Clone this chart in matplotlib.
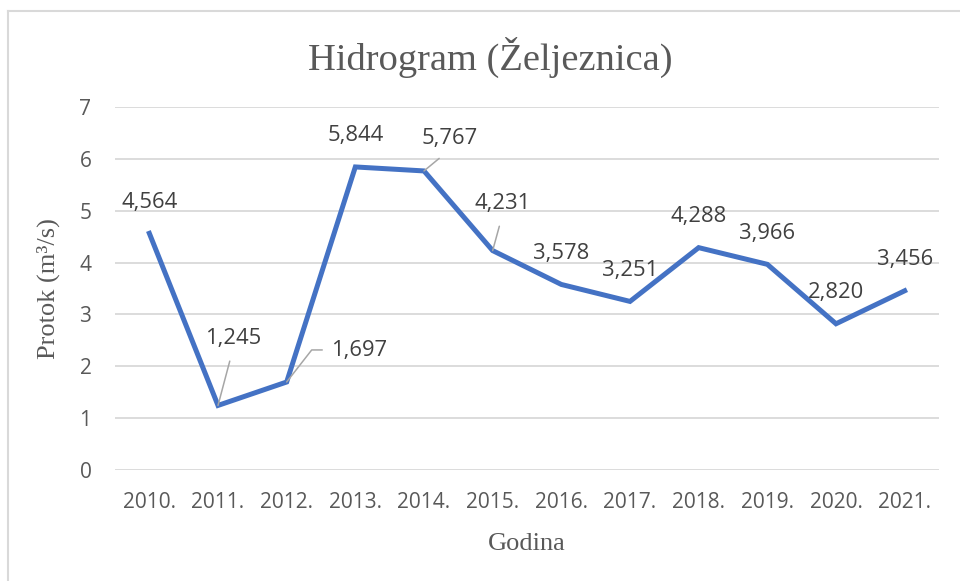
import matplotlib
matplotlib.use("Agg")
import matplotlib.pyplot as plt
from matplotlib.lines import Line2D

years = ["2010.", "2011.", "2012.", "2013.", "2014.", "2015.", "2016.",
         "2017.", "2018.", "2019.", "2020.", "2021."]
flow = [4.564, 1.245, 1.697, 5.844, 5.767, 4.231, 3.578, 3.251, 4.288, 3.966, 2.820, 3.456]
labels = ["4,564", "1,245", "1,697", "5,844", "5,767", "4,231", "3,578",
          "3,251", "4,288", "3,966", "2,820", "3,456"]
yticks = [0, 1, 2, 3, 4, 5, 6, 7]

W, H = 960, 581
fig = plt.figure(figsize=(W / 100, H / 100), dpi=100)
fig.patch.set_facecolor("white")

ax = fig.add_axes([115 / W, 1 - 470 / H, (939 - 115) / W, (470 - 107) / H])
x = list(range(len(years)))
ax.plot(x, flow, color="#4472C4", linewidth=3.6, solid_joinstyle="miter", zorder=3)
ax.set_xlim(-0.5, len(years) - 0.5)
ax.set_ylim(0, 7)
ax.set_yticks(yticks)
ax.set_xticks(x)
ax.set_xticklabels(years)
ax.grid(axis="y", color="#D9D9D9", linewidth=1.3)
ax.set_axisbelow(True)
for s in ax.spines.values():
    s.set_visible(False)
ax.tick_params(axis="both", length=0, labelsize=15, labelcolor="#595959")
ax.tick_params(axis="y", pad=17)
ax.tick_params(axis="x", pad=16)
for t in ax.get_xticklabels() + ax.get_yticklabels():
    t.set_fontfamily("Open Sans")

ax.set_xlabel("Godina", fontfamily="Liberation Serif", fontsize=19, color="#595959", labelpad=14)
ax.set_ylabel("Protok (m³/s)", fontfamily="Liberation Serif", fontsize=19, color="#595959", labelpad=14)

fig.text(490 / W, 1 - 70 / H, "Hidrogram (Željeznica)", fontfamily="Liberation Serif",
         fontsize=27.7, color="#595959", ha="center", va="baseline")

# label offsets in pixels (dx, dy-up) and leader lines
offsets = {1: (15, 67), 2: (72, 31), 4: (26, 32), 5: (10, 47)}
for i, (v, lab) in enumerate(zip(flow, labels)):
    dx, dy = offsets.get(i, (0, 31))
    kw = dict(textcoords="offset pixels", ha="center", va="center",
              fontsize=15.8, color="#404040", fontfamily="Open Sans", zorder=4)
    if i in (1, 4, 5):
        ax.annotate(lab, xy=(i, v), xytext=(dx, dy),
                    arrowprops=dict(arrowstyle="-", color="#A6A6A6", lw=1.1,
                                    relpos=(0.5, 0.0), shrinkA=7, shrinkB=0), **kw)
    elif i == 2:
        ax.annotate(lab, xy=(i, v), xytext=(dx, dy),
                    arrowprops=dict(arrowstyle="-", color="#A6A6A6", lw=1.1,
                                    relpos=(0.0, 0.55), shrinkA=4, shrinkB=0,
                                    connectionstyle="angle,angleA=0,angleB=52,rad=0"), **kw)
    else:
        ax.annotate(lab, xy=(i, v), xytext=(dx, dy), **kw)

# chart border (clipped at right and bottom)
fig.add_artist(Line2D([8 / W, 8 / W], [0, 1 - 11 / H], color="#D9D9D9", lw=1.5, transform=fig.transFigure))
fig.add_artist(Line2D([8 / W, 1], [1 - 11 / H, 1 - 11 / H], color="#D9D9D9", lw=1.5, transform=fig.transFigure))

fig.savefig("out.png", dpi=100)
